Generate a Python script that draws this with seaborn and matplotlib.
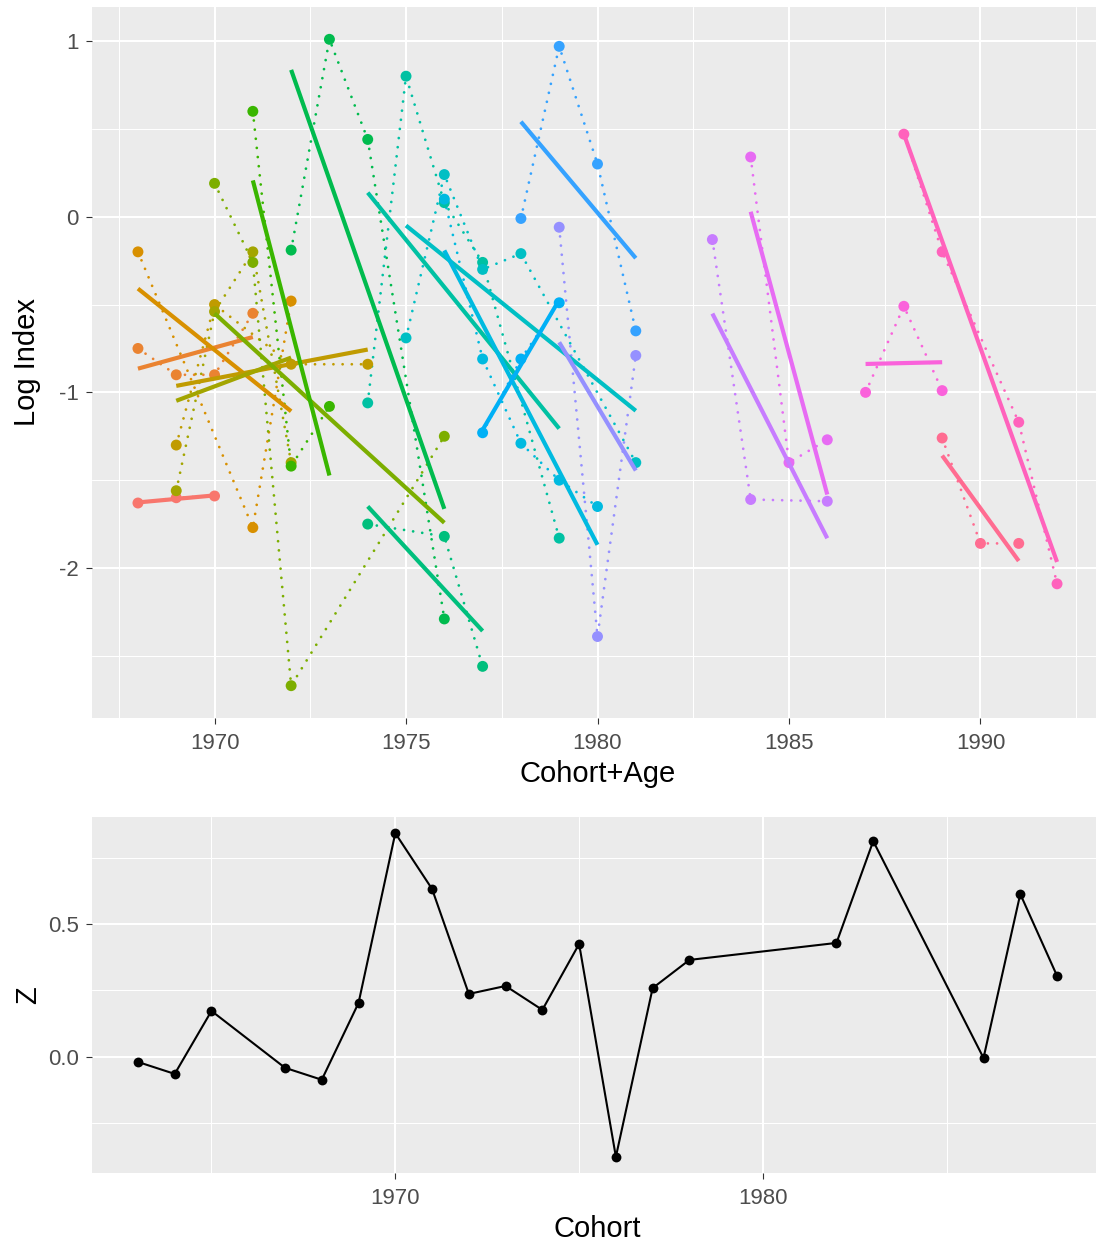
import numpy as np
import pandas as pd
import matplotlib
matplotlib.use("Agg")
import matplotlib.pyplot as plt
from matplotlib.ticker import MultipleLocator, FormatStrFormatter
import seaborn as sns

# ---- data -------------------------------------------------------------
cohorts = [1963, 1964, 1965, 1967, 1968, 1969, 1970, 1971, 1972, 1973,
           1974, 1975, 1976, 1977, 1978, 1982, 1983, 1986, 1987, 1988]

# ages observed for each cohort (x position is Cohort + Age)
ages = [
    [5, 6, 7],
    [4, 5, 6, 7],
    [3, 6, 7],
    [2, 3, 5, 7],
    [1, 2, 3, 4],
    [1, 2, 3, 7],
    [1, 2, 3],
    [1, 2, 3, 5],
    [2, 4, 5],
    [1, 2, 3, 4, 6],
    [1, 2, 3, 4, 7],
    [1, 2, 3, 4, 5],
    [1, 2, 3],
    [1, 2, 3, 4],
    [1, 2, 3],
    [1, 2, 4],
    [1, 2, 3],
    [1, 2, 3],
    [1, 2, 4, 5],
    [1, 2, 3],
]

log_index = [
    [-1.63, -1.60, -1.59],
    [-0.75, -0.90, -0.90, -0.55],
    [-0.20, -1.77, -0.48],
    [-1.30, -0.50, -0.84, -0.84],
    [-1.56, -0.54, -0.20, -1.40],
    [0.19, -0.26, -2.67, -1.25],
    [0.60, -1.42, -1.08],
    [-0.19, 1.01, 0.44, -2.29],
    [-1.75, -1.82, -2.56],
    [-1.06, 0.80, 0.08, -0.26, -1.83],
    [-0.69, 0.24, -0.30, -0.21, -1.40],
    [0.10, -0.81, -1.29, -1.50, -1.65],
    [-1.23, -0.81, -0.49],
    [-0.01, 0.97, 0.30, -0.65],
    [-0.06, -2.39, -0.79],
    [-0.13, -1.61, -1.62],
    [0.34, -1.40, -1.27],
    [-1.00, -0.51, -0.99],
    [0.47, -0.20, -1.17, -2.09],
    [-1.26, -1.86, -1.86],
]

z_values = [-0.019, -0.064, 0.173, -0.041, -0.086, 0.203, 0.842, 0.632,
            0.237, 0.267, 0.177, 0.425, -0.376, 0.259, 0.365, 0.429,
            0.812, -0.004, 0.613, 0.305]

# default discrete hue palette (20 levels)
hue_colors = ["#F8766D", "#EA8331", "#D89000", "#C09B00", "#A3A500",
              "#7CAE00", "#39B600", "#00BB4E", "#00BF7D", "#00C1A3",
              "#00BFC4", "#00BAE0", "#00B0F6", "#35A2FF", "#9590FF",
              "#C77CFF", "#E76BF3", "#FA62DB", "#FF62BC", "#FF6C91"]

# ---- long table --------------------------------------------------------
rows = []
for c, a_list, y_list in zip(cohorts, ages, log_index):
    for a, y in zip(a_list, y_list):
        rows.append({"Cohort": c, "CohortAge": c + a, "LogIndex": y})
df = pd.DataFrame(rows)
zdf = pd.DataFrame({"Cohort": cohorts, "Z": z_values})
palette = dict(zip(cohorts, hue_colors))

# ---- style -------------------------------------------------------------
sns.set_theme(style="darkgrid", rc={
    "axes.facecolor": "#EBEBEB",
    "grid.color": "white",
    "axes.edgecolor": "#EBEBEB",
    "axes.unicode_minus": False,
})
plt.rcParams["font.family"] = ["Liberation Sans", "DejaVu Sans"]

W, H = 1096, 1247
fig = plt.figure(figsize=(W / 100, H / 100), dpi=100)
fig.patch.set_facecolor("white")

ax1 = fig.add_axes([92 / W, 1 - 718 / H, 1011 / W, 711 / H])
ax2 = fig.add_axes([92 / W, 1 - 1173 / H, 1011 / W, 356 / H])


def expand(vmin, vmax, f=0.05):
    d = (vmax - vmin) * f
    return vmin - d, vmax + d


def style_axis(ax):
    for s in ax.spines.values():
        s.set_visible(False)
    ax.set_axisbelow(True)
    ax.grid(which="major", color="white", linewidth=1.5)
    ax.grid(which="minor", color="white", linewidth=0.75)
    ax.tick_params(which="major", length=4, width=0.8, labelsize=16,
                   color="#333333", labelcolor="#4D4D4D",
                   bottom=True, left=True)
    ax.tick_params(axis="x", which="major", pad=7)
    ax.tick_params(axis="y", which="major", pad=5.5)
    ax.tick_params(which="minor", length=0)


# ---- top panel: log index by cohort+age ---------------------------------
sns.lineplot(data=df, x="CohortAge", y="LogIndex", hue="Cohort",
             palette=palette, estimator=None, errorbar=None, legend=False,
             linewidth=2.0, linestyle=(0, (0.01, 3.3)),
             dash_capstyle="round", ax=ax1)
sns.scatterplot(data=df, x="CohortAge", y="LogIndex", hue="Cohort",
                palette=palette, s=62, linewidth=0, legend=False, ax=ax1,
                zorder=3)
for c in cohorts:
    sub = df[df["Cohort"] == c]
    sns.regplot(data=sub, x="CohortAge", y="LogIndex", scatter=False,
                ci=None, color=palette[c], truncate=True, ax=ax1,
                line_kws={"linewidth": 3.0, "solid_capstyle": "butt",
                          "zorder": 4})

ax1.set_xlim(*expand(df["CohortAge"].min(), df["CohortAge"].max()))
ax1.set_ylim(*expand(df["LogIndex"].min(), df["LogIndex"].max()))
ax1.xaxis.set_major_locator(MultipleLocator(5))
ax1.xaxis.set_minor_locator(MultipleLocator(2.5))
ax1.yaxis.set_major_locator(MultipleLocator(1))
ax1.yaxis.set_minor_locator(MultipleLocator(0.5))
ax1.xaxis.set_major_formatter(FormatStrFormatter("%d"))
ax1.yaxis.set_major_formatter(FormatStrFormatter("%d"))
style_axis(ax1)
ax1.set_xlabel("Cohort+Age", fontsize=21, color="black", labelpad=4)
ax1.set_ylabel("Log Index", fontsize=21, color="black", labelpad=13)

# ---- bottom panel: Z by cohort -----------------------------------------
sns.lineplot(data=zdf, x="Cohort", y="Z", color="black", linewidth=1.5,
             estimator=None, errorbar=None, ax=ax2)
sns.scatterplot(data=zdf, x="Cohort", y="Z", color="black", s=50,
                linewidth=0, ax=ax2, zorder=3)
ax2.set_xlim(*expand(zdf["Cohort"].min(), zdf["Cohort"].max()))
ax2.set_ylim(*expand(zdf["Z"].min(), zdf["Z"].max()))
ax2.xaxis.set_major_locator(MultipleLocator(10))
ax2.xaxis.set_minor_locator(MultipleLocator(5))
ax2.yaxis.set_major_locator(MultipleLocator(0.5))
ax2.yaxis.set_minor_locator(MultipleLocator(0.25))
ax2.xaxis.set_major_formatter(FormatStrFormatter("%d"))
ax2.yaxis.set_major_formatter(FormatStrFormatter("%.1f"))
style_axis(ax2)
ax2.set_xlabel("Cohort", fontsize=21, color="black", labelpad=4)
ax2.set_ylabel("Z", fontsize=21, color="black", labelpad=4)

fig.savefig("out.png", dpi=100, facecolor="white")
